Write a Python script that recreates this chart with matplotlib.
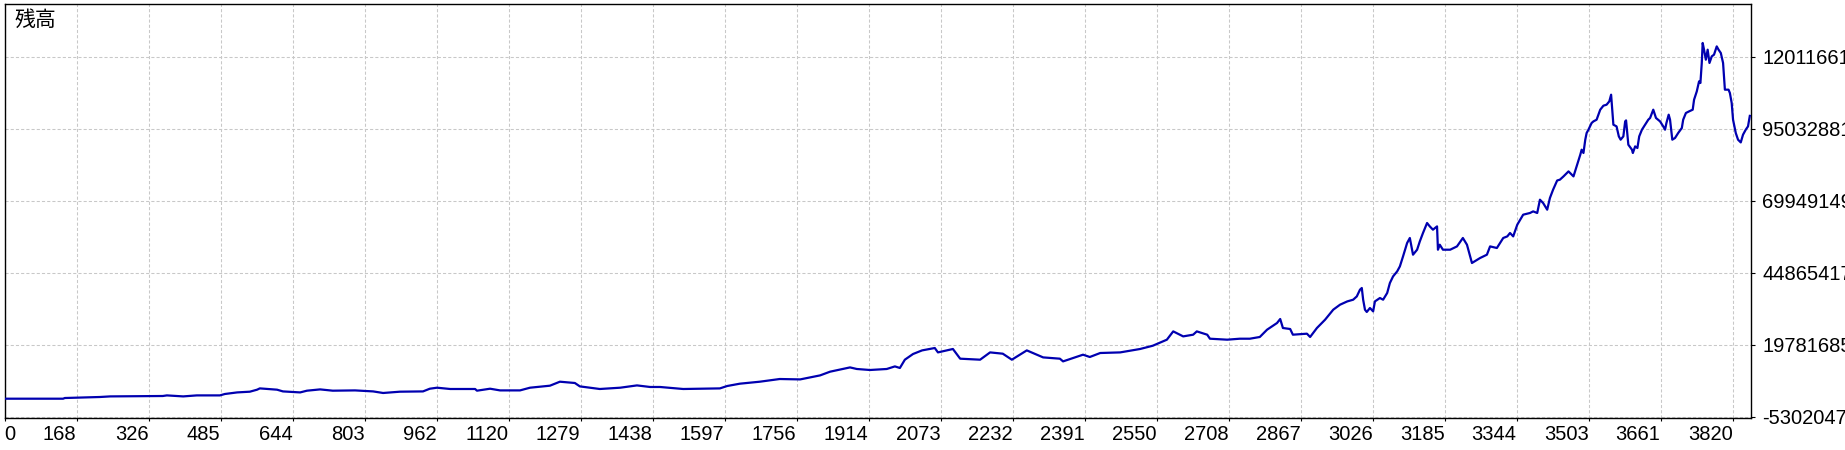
import numpy as np
import matplotlib
matplotlib.use('Agg')
import matplotlib.pyplot as plt
from matplotlib import rcParams

rcParams['font.family'] = ['Liberation Sans', 'Noto Sans CJK JP']
rcParams['font.size'] = 14.5

# balance curve (trade number, balance in millions)
trade = [0, 129, 133, 210, 233, 349, 358, 394, 424, 475, 486, 513, 541, 557, 563,
         601, 614, 652, 667, 696, 724, 773, 813, 835, 872, 923, 938, 954, 983,
         1038, 1042, 1071, 1093, 1137, 1159, 1203, 1225, 1258, 1269, 1313, 1358,
         1395, 1424, 1446, 1497, 1578, 1594, 1622, 1666, 1710, 1755, 1799, 1821,
         1865, 1880, 1909, 1946, 1964, 1975, 1986, 2004, 2024, 2052, 2059, 2092,
         2108, 2152, 2174, 2202, 2222, 2255, 2291, 2328, 2335, 2357, 2379, 2394,
         2417, 2461, 2505, 2533, 2564, 2578, 2600, 2622, 2630, 2653, 2659, 2697,
         2725, 2747, 2769, 2785, 2807, 2814, 2820, 2836, 2842, 2873, 2880, 2895,
         2913, 2931, 2946, 2962, 2975, 2983, 2990, 2994, 2997, 3001, 3005, 3012,
         3019, 3023, 3034, 3041, 3050, 3056, 3063, 3072, 3078, 3085, 3094, 3100,
         3107, 3116, 3122, 3129, 3138, 3144, 3151, 3160, 3162, 3166, 3173, 3189,
         3204, 3217, 3226, 3233, 3237, 3255, 3270, 3277, 3292, 3306, 3315, 3321,
         3328, 3337, 3350, 3365, 3372, 3381, 3387, 3394, 3403, 3409, 3416, 3425,
         3431, 3439, 3450, 3461, 3468, 3476, 3479, 3483, 3487, 3490, 3494, 3501,
         3505, 3512, 3520, 3527, 3534, 3540, 3544, 3549, 3556, 3561, 3565, 3571,
         3575, 3577, 3582, 3590, 3592, 3597, 3602, 3606, 3612, 3619, 3626, 3630,
         3637, 3643, 3652, 3659, 3663, 3666, 3671, 3674, 3679, 3685, 3692, 3700,
         3703, 3709, 3716, 3724, 3727, 3733, 3738, 3741, 3744, 3746, 3749, 3753,
         3757, 3761, 3766, 3771, 3777, 3781, 3786, 3791, 3795, 3803, 3806, 3810,
         3813, 3819, 3824, 3830, 3835, 3841, 3846, 3850]
balance_m = [0.97, 0.97, 1.21, 1.56, 1.77, 1.91, 2.12, 1.77, 2.12, 2.12, 2.61, 3.16,
             3.41, 4.11, 4.56, 4.11, 3.51, 3.16, 3.76, 4.21, 3.76, 3.86, 3.51, 2.96,
             3.41, 3.51, 4.45, 4.80, 4.35, 4.35, 3.76, 4.45, 3.86, 3.86, 4.80, 5.50,
             6.89, 6.44, 5.26, 4.35, 4.80, 5.60, 5.05, 5.05, 4.35, 4.56, 5.39, 6.20,
             6.89, 7.83, 7.69, 9.09, 10.38, 11.87, 11.32, 10.97, 11.32, 12.22, 11.67,
             14.56, 16.54, 17.80, 18.63, 17.10, 18.29, 14.91, 14.56, 17.10, 16.65,
             14.56, 17.80, 15.36, 14.91, 13.97, 15.15, 16.30, 15.50, 16.89, 17.10,
             18.29, 19.43, 21.53, 24.42, 22.68, 23.27, 24.42, 23.27, 21.87, 21.53,
             21.87, 21.87, 22.47, 25.01, 27.34, 28.74, 25.60, 25.25, 23.27, 23.62,
             22.47, 25.60, 28.49, 31.98, 33.72, 34.87, 35.46, 36.61, 38.95, 39.54,
             35.46, 31.98, 31.18, 32.57, 31.39, 34.87, 36.05, 35.46, 37.80, 41.28,
             43.58, 45.32, 47.06, 50.55, 55.22, 56.96, 51.14, 52.88, 55.77, 58.70,
             62.18, 61.00, 59.85, 61.00, 52.88, 54.62, 52.88, 52.88, 54.03, 56.96,
             54.62, 50.55, 48.25, 49.99, 51.14, 54.03, 53.47, 56.96, 57.52, 58.70,
             57.52, 61.59, 65.08, 65.67, 66.23, 65.67, 70.30, 69.15, 66.82, 70.89,
             73.79, 77.00, 77.27, 78.42, 80.16, 78.42, 81.90, 85.98, 87.72, 86.57,
             91.21, 93.54, 94.69, 97.02, 97.58, 98.17, 101.66, 103.05, 103.40,
             104.55, 106.88, 96.43, 95.84, 92.36, 91.21, 92.36, 97.58, 97.93, 89.46,
             87.72, 86.57, 88.87, 88.31, 92.36, 94.69, 96.43, 98.17, 98.77, 101.66,
             98.77, 97.58, 95.84, 94.69, 97.02, 99.92, 98.17, 91.21, 91.80, 93.54,
             95.28, 98.17, 100.51, 101.07, 101.66, 105.14, 108.03, 111.52, 110.96,
             117.93, 124.90, 122.56, 119.08, 122.56, 117.93, 120.23, 120.82, 123.71,
             122.56, 121.41, 117.93, 108.63, 108.63, 107.48, 103.99, 98.17, 93.54,
             91.21, 90.26, 92.95, 94.69, 95.84, 99.50]

x_labels = ['0', '168', '326', '485', '644', '803', '962', '1120', '1279', '1438',
            '1597', '1756', '1914', '2073', '2232', '2391', '2550', '2708', '2867',
            '3026', '3185', '3344', '3503', '3661', '3820']
y_labels = ['-5302047', '19781685', '44865417', '69949149', '95032881', '120116613']
x_step = 158.83

fig = plt.figure(figsize=(18.45, 4.5), dpi=100)
ax = fig.add_axes([4.6 / 1845, (450 - 418.3) / 450, (1751 - 4.6) / 1845, (418.3 - 4) / 450])

ax.plot(trade, np.array(balance_m) * 1e6, color='#0000b0', linewidth=1.6, zorder=3)

ax.set_xlim(0, 3852.6)
ax.set_ylim(-5859000, 138480000)

ax.set_xticks(np.arange(len(x_labels)) * x_step)
ax.set_xticklabels(x_labels)
for i, lab in enumerate(ax.get_xticklabels()):
    lab.set_ha('left' if i == 0 else 'right')
ax.set_yticks([int(s) for s in y_labels])
ax.set_yticklabels(y_labels)

ax.yaxis.tick_right()
ax.tick_params(axis='x', direction='out', length=2, width=0.8, pad=2.5)
ax.tick_params(axis='y', direction='out', length=3, width=0.8, pad=5)
ax.grid(True, color='#c8c8c8', linestyle=(0, (3, 2)), linewidth=0.75)
for s in ax.spines.values():
    s.set_linewidth(1.0)
    s.set_color('black')

ax.text(10 / 1747, 1 - 5 / 414, '残高', transform=ax.transAxes, ha='left', va='top',
        fontsize=15, family=['Noto Sans CJK JP', 'DejaVu Sans'])

fig.savefig('out.png', dpi=100)
